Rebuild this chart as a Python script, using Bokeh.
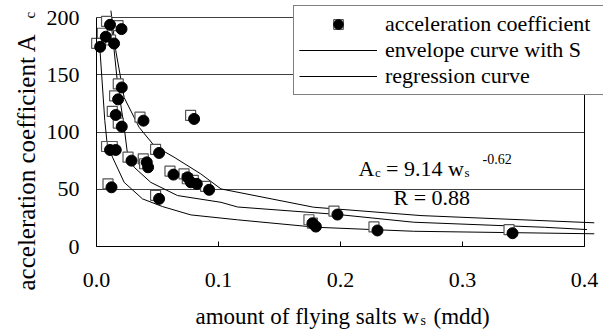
import math
from bokeh.plotting import figure
from bokeh.models import (ColumnDataSource, Range1d, FixedTicker, Legend, LegendItem,
                          Label, LinearAxis, NumeralTickFormatter)
from bokeh.transform import dodge
from bokeh.embed import file_html
from bokeh.resources import INLINE

# ---- data ----
ws = [0.0111, 0.0205, 0.0076, 0.0030, 0.0144, 0.0207, 0.0177, 0.0158, 0.0207,
      0.0385, 0.0800, 0.0111, 0.0158, 0.0287, 0.0412, 0.0423, 0.0513, 0.0631,
      0.0746, 0.0773, 0.0822, 0.0923, 0.0123, 0.0513, 0.1975, 0.1798, 0.1770,
      0.2303, 0.3410]
ac = [193.6, 189.9, 183.2, 174.4, 177.3, 138.9, 128.5, 114.9, 104.7,
      109.9, 111.4, 84.3, 84.3, 75.0, 73.5, 69.2, 81.7, 62.8,
      60.4, 56.1, 54.7, 49.5, 51.7, 41.6, 27.9, 17.4, 20.3,
      14.0, 11.6]

upper_w = [0.0118, 0.0158, 0.0227, 0.035, 0.0473, 0.0636, 0.0855, 0.102, 0.178, 0.266, 0.408]
upper_a = [206, 171, 130, 104, 88, 78, 63.4, 50.3, 34.3, 27.0, 20.7]

reg_w = [0.0125, 0.0139, 0.0172, 0.0227, 0.0254, 0.0309, 0.0445, 0.0664, 0.102, 0.1156, 0.1975, 0.26, 0.367, 0.402]
reg_a = [190, 177, 143, 104, 80.9, 69.2, 56.0, 44.5, 38.6, 34.5, 28.0, 21.2, 16.8, 14.8]

lower_w = [0.0027, 0.0068, 0.0085, 0.0131, 0.0227, 0.0377, 0.054, 0.0773, 0.1156, 0.18, 0.26, 0.408]
lower_a = [174, 110, 92, 78, 56, 41.6, 34.9, 27.6, 23.3, 16.8, 13.3, 11.1]

x_ticks = [0.0, 0.1, 0.2, 0.3, 0.4]
x_tick_labels = ["0.0", "0.1", "0.2", "0.3", "0.4"]
y_ticks = [0, 50, 100, 150, 200]
y_tick_labels = ["0", "50", "100", "150", "200"]

# ---- layout (pixel geometry of the plot area inside the 603x329 canvas) ----
W, H = 603, 329
PL, PR, PT, PB = 96, 584, 17, 246          # plot area edges in canvas pixels
X0, X1, Y0, Y1 = 0.0, 0.4, 0.0, 200.0      # axis extents
sx = (PR - PL) / (X1 - X0)
sy = (PB - PT) / (Y1 - Y0)
FONT = "'Liberation Serif', 'Times New Roman', serif"

p = figure(width=W, height=H, output_backend="svg", toolbar_location=None,
           x_range=Range1d(X0 - PL / sx, X0 + (W - PL) / sx),
           y_range=Range1d(Y0 - (H - PB) / sy, Y0 + PB / sy),
           min_border=0, min_border_left=0, min_border_right=0,
           min_border_top=0, min_border_bottom=0)
p.background_fill_color = "white"
p.border_fill_color = "white"
p.outline_line_color = None

# axes (fixed at the plot-area edges)
p.xaxis.fixed_location = Y0
p.xaxis.bounds = (X0, X1)
p.yaxis.fixed_location = X0
p.yaxis.bounds = (Y0, Y1)
p.xaxis.ticker = FixedTicker(ticks=x_ticks)
p.xaxis.formatter = NumeralTickFormatter(format="0.0")
p.xaxis.major_label_overrides = dict(zip(x_ticks, x_tick_labels))
p.yaxis.ticker = FixedTicker(ticks=y_ticks)
p.yaxis.major_label_overrides = dict(zip(y_ticks, y_tick_labels))
for ax in (p.xaxis, p.yaxis):
    ax.axis_line_color = "black"
    ax.major_tick_line_color = "black"
    ax.minor_tick_line_color = None
    ax.major_label_text_font = FONT
    ax.major_label_text_font_size = "22px"
    ax.major_label_text_color = "black"
    ax.major_tick_out = 0
p.xaxis.major_tick_in = 5
p.yaxis.major_tick_in = 0
p.xaxis.major_label_standoff = 26
p.yaxis.major_label_standoff = 17

# right border of the plot area
rax = LinearAxis(fixed_location=X1, bounds=(Y0, Y1), ticker=FixedTicker(ticks=[]),
                 axis_line_color="black", major_tick_in=0, major_tick_out=0,
                 minor_tick_in=0, minor_tick_out=0, major_label_text_font_size="0px")
p.add_layout(rax, "right")

# horizontal gridlines limited to the plot area
p.xgrid.visible = False
p.ygrid.ticker = FixedTicker(ticks=y_ticks)
p.ygrid.grid_line_color = "#404040"
p.ygrid.grid_line_width = 1
try:
    p.ygrid.cross_bounds = (X0, X1)
except Exception:
    p.ygrid.visible = False
    p.segment(x0=[X0] * len(y_ticks), x1=[X1] * len(y_ticks), y0=y_ticks, y1=y_ticks,
              line_color="#404040", line_width=1)

# curves
r_up = p.line(upper_w, upper_a, line_color="black", line_width=1)
r_lo = p.line(lower_w, lower_a, line_color="black", line_width=1)
r_rg = p.line(reg_w, reg_a, line_color="black", line_width=1)

# points: shadowed square behind a black circle
src = ColumnDataSource(data=dict(w=ws, a=ac))
r_sq = p.scatter(x=dodge("w", -3.5 / sx, range=p.x_range), y=dodge("a", 3.5 / sy, range=p.y_range),
                 source=src, marker="square", size=10, fill_color="white",
                 line_color="#555555", line_width=1.2)
r_ci = p.scatter(x="w", y="a", source=src, marker="circle", size=11,
                 fill_color="black", line_color="black")

legend = Legend(items=[
    LegendItem(label="acceleration coefficient", renderers=[r_sq, r_ci]),
    LegendItem(label="envelope curve with S", renderers=[r_up, r_lo]),
    LegendItem(label="regression curve", renderers=[r_rg]),
], location=(293, H - 95))
legend.label_text_font = FONT
legend.label_text_font_size = "22px"
legend.label_text_line_height = 1.0
legend.label_text_color = "black"
legend.border_line_color = "black"
legend.border_line_width = 1
legend.background_fill_color = "white"
legend.background_fill_alpha = 1
legend.padding = 5
legend.margin = 0
try:
    legend.spacing = -3
except Exception:
    legend.spacing = 0
legend.label_height = 24
legend.glyph_height = 24
legend.glyph_width = 78
legend.label_standoff = 8
legend.label_width = 230
p.add_layout(legend)


def lab(text, px, py, size, angle=0.0):
    return Label(text=text, x=px, y=H - py, x_units="screen", y_units="screen",
                 text_font=FONT, text_font_size=size, text_color="black",
                 text_baseline="alphabetic", text_align="left", angle=angle)


# axis titles (with subscripts)
p.add_layout(lab("amount of flying salts w", 195, 316, "23px"))
p.add_layout(lab("s", 420, 320, "14px"))
p.add_layout(lab("(mdd)", 433, 316, "23px"))
p.add_layout(lab("acceleration coefficient A", 26, 290, "25px", angle=math.pi / 2))
p.add_layout(lab("c", 29, 18, "15px", angle=math.pi / 2))

# regression annotation
p.add_layout(lab("A", 358, 168, "22px"))
p.add_layout(lab("c", 374.5, 172, "13px"))
p.add_layout(lab("= 9.14 w", 385.5, 168, "22px"))
p.add_layout(lab("s", 464, 172, "13px"))
p.add_layout(lab("-0.62", 482, 158, "14px"))
p.add_layout(lab("R = 0.88", 393, 197, "22px"))

open("out.html", "w").write(file_html(p, INLINE))
